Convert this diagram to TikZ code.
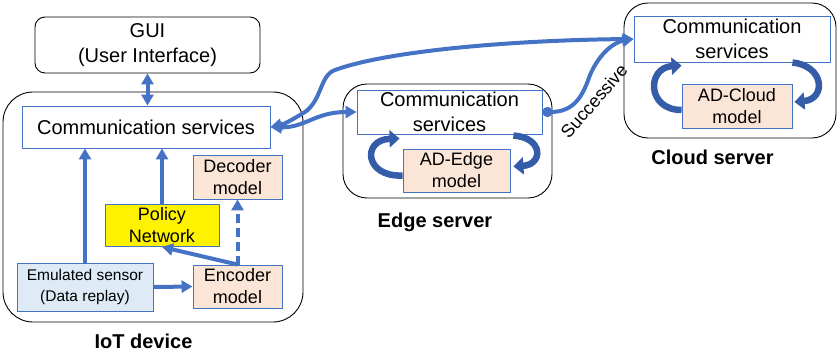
\documentclass[tikz,border=0pt]{standalone}
\usepackage{fontspec}
\setmainfont{Liberation Sans}
\usepackage{xcolor}
\usetikzlibrary{shapes,arrows.meta,positioning}

\definecolor{linkblue}{RGB}{68,114,196}
\definecolor{loopblue}{RGB}{52,92,168}
\definecolor{modelfill}{RGB}{251,229,214}
\definecolor{sensorfill}{RGB}{222,235,247}

\begin{document}
\begin{tikzpicture}[
    x=1pt, y=-1pt,
    txt/.style={font=\fontsize{20}{25}\selectfont},
    container/.style={rectangle, draw, line width=0.9pt, rounded corners=24pt},
    box/.style={rectangle, draw=linkblue, line width=0.9pt, align=center, inner sep=0pt, txt},
    model/.style={box, fill=modelfill, font=\fontsize{18}{22}\selectfont},
    caption/.style={font=\bfseries\fontsize{20}{24}\selectfont},
    arrow/.style={-{Triangle[length=11pt,width=12pt]}, line width=4pt, draw=linkblue},
    biarrow/.style={{Triangle[length=11pt,width=12pt]}-{Triangle[length=11pt,width=12pt]}, line width=4pt, draw=linkblue},
    loop/.style={-{Triangle[length=10pt,width=17pt]}, line width=6.5pt, draw=loopblue}
]
\useasboundingbox (0,0) rectangle (838,356);

% Containers
\node[container, minimum width=300, minimum height=230, rounded corners=30pt] (iot) at (153,207) {};
\node[container, minimum width=209, minimum height=114] (edge) at (447.5,141) {};
\node[container, minimum width=212, minimum height=135] (cloud) at (730,70.5) {};

% GUI
\node[rectangle, draw, line width=0.9pt, rounded corners=10pt, minimum width=225, minimum height=56, align=center, txt] (gui) at (147.5,45) {GUI\\(User Interface)};

% IoT device
\node[box, minimum width=248, minimum height=42] (iotcomm) at (146,127) {Communication services};
\node[model, minimum width=89, minimum height=44] (decoder) at (237.5,177) {Decoder\\model};
\node[box, fill=yellow, minimum width=114, minimum height=42, font=\fontsize{18}{22}\selectfont] (policy) at (162,225.5) {Policy\\Network};
\node[box, fill=sensorfill, minimum width=136, minimum height=48, font=\fontsize{15.5}{21}\selectfont] (sensor) at (85,287) {Emulated sensor\\(Data replay)};
\node[model, minimum width=89, minimum height=43] (encoder) at (237.5,286.5) {Encoder\\model};
\node[caption] (iotlabel) at (143.5,341) {IoT device};

% Edge server
\node[box, minimum width=185, minimum height=44] (edgecomm) at (449.5,112) {Communication\\services};
\node[model, minimum width=107, minimum height=43] (edgead) at (456.5,170.5) {AD-Edge\\model};
\node[caption] (edgelabel) at (435,222) {Edge server};

% Cloud server
\node[box, minimum width=196, minimum height=46] (cloudcomm) at (732,39) {Communication\\services};
\node[model, minimum width=110, minimum height=44] (cloudad) at (737,106) {AD-Cloud\\model};
\node[caption] (cloudlabel) at (712.5,157) {Cloud server};

% IoT data flow
\draw[biarrow] (gui.south) -- (gui.south |- iotcomm.north);
\draw[arrow] (sensor.north) -- (sensor.north |- iotcomm.south);
\draw[arrow] (policy.north) -- (policy.north |- iotcomm.south);
\draw[arrow] (sensor.east) -- (encoder.west);
\draw[arrow] (encoder.north) -- (policy.south);
\draw[arrow, dashed, dash pattern=on 9pt off 5pt] (encoder.north) -- (decoder.south);

% Server loops
\draw[loop] ([shift={(0,5)}]edgead.west) .. controls +(-38,2) and +(-38,1) .. ([shift={(-3,-10)}]edgead.north west);
\draw[loop] ([shift={(3,-13)}]edgead.north east) .. controls +(30,2) and +(30,-2) .. ([shift={(3,-4)}]edgead.east);
\draw[loop] ([shift={(0,4)}]cloudad.west) .. controls +(-35,0) and +(-35,2) .. ([shift={(0,-18)}]cloudad.north west);
\draw[loop] ([shift={(0,-21)}]cloudad.north east) .. controls +(32,3) and +(32,-3) .. ([shift={(2,-4)}]cloudad.east);

% Links between devices
\draw[biarrow] (iotcomm.east) .. controls (305,128) and (315,112) .. (edgecomm.west);
\draw[biarrow] (cloudcomm.west) .. controls (520,40) and (390,50) .. (335,70)
    .. controls (320,75) and (322,100) .. (305,112)
    .. controls (295,118) and (285,124) .. (iotcomm.east);
\draw[{Circle[length=10pt]}-{Triangle[length=11pt,width=12pt]}, line width=4pt, draw=linkblue]
    (edgecomm.east) .. controls (575,112) and (583,95) .. (590,75)
    .. controls (600,52) and (615,42) .. (cloudcomm.west);
\node[rotate=49, font=\fontsize{18}{22}\selectfont] (successive) at (594,101) {Successive};

\end{tikzpicture}
\end{document}
